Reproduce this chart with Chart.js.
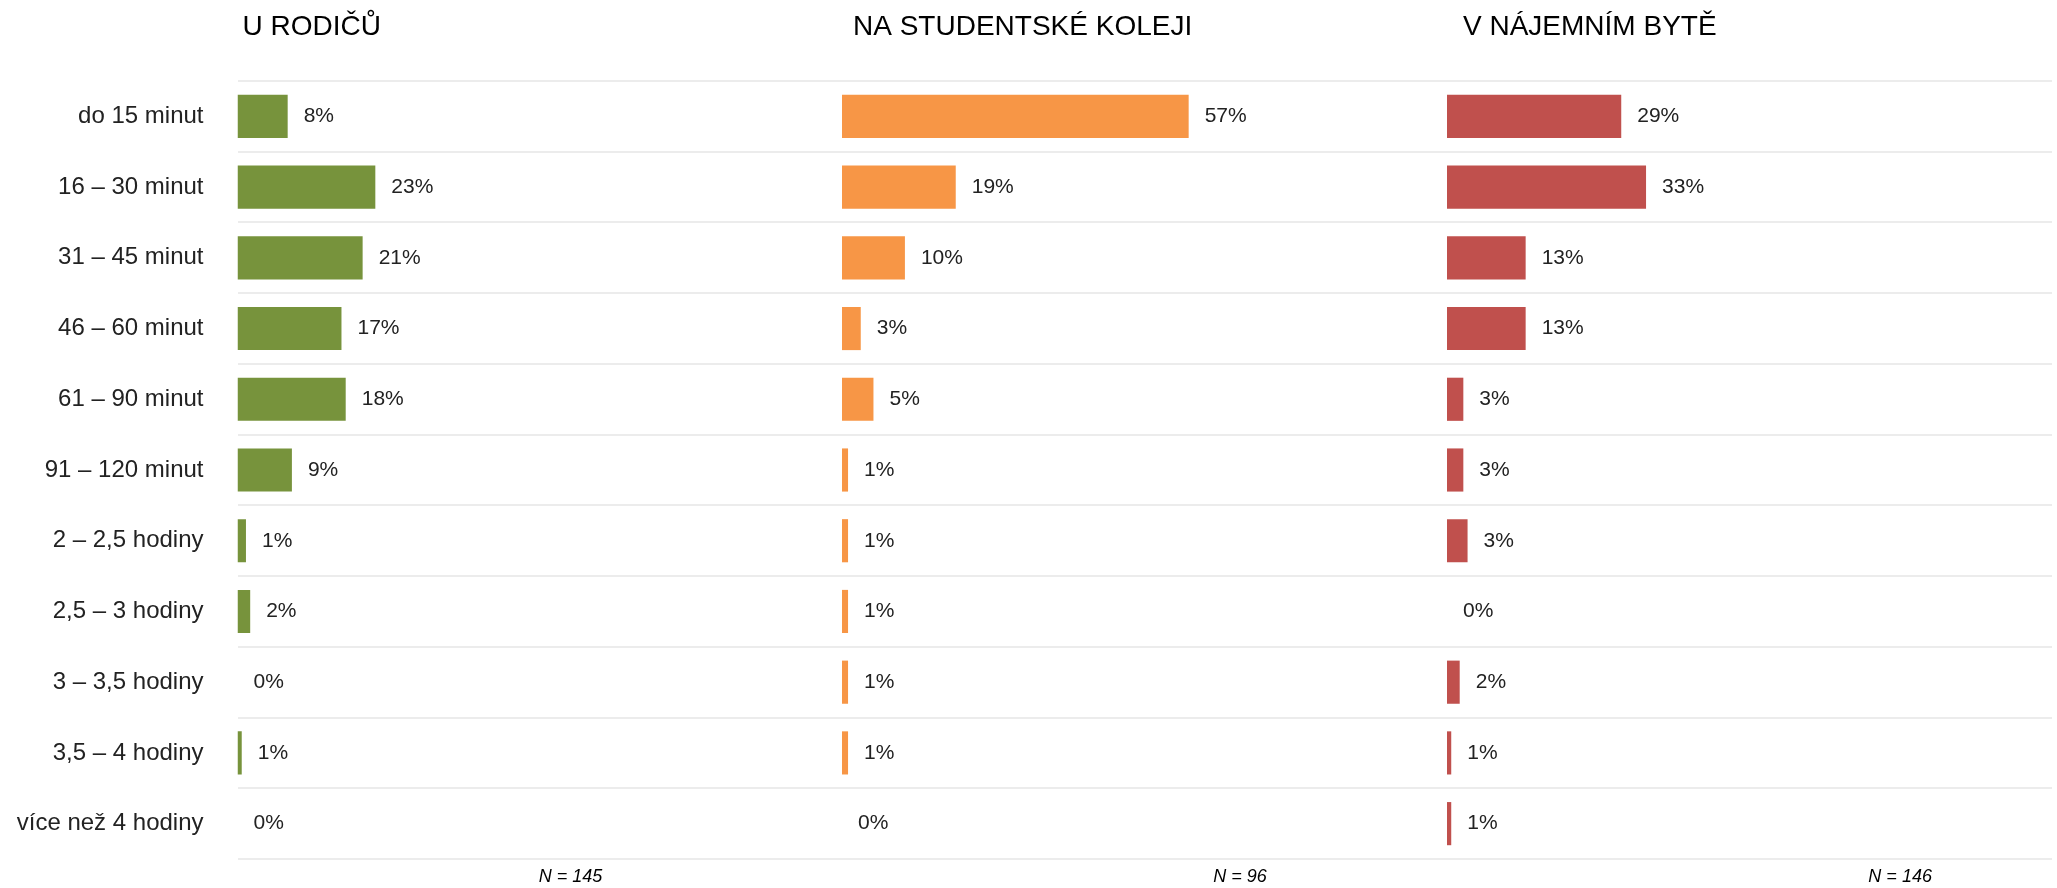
<!DOCTYPE html>
<html>
<head>
<meta charset="utf-8">
<script src="https://cdn.jsdelivr.net/npm/chart.js@4.4.1/dist/chart.umd.min.js"></script>
<style>
	html, body { margin: 0; padding: 0; background: #fff; }
	#wrap { position: relative; width: 2057px; height: 888px; }
	canvas { position: absolute; top: 0; }
</style>
</head>
<body>
<div id="wrap">
	<canvas id="panel1" width="842" height="888" style="left:0"></canvas>
	<canvas id="panel2" width="605" height="888" style="left:842px"></canvas>
	<canvas id="panel3" width="610" height="888" style="left:1447px"></canvas>
</div>
<script>
const categories = [
	'do 15 minut', '16 – 30 minut', '31 – 45 minut', '46 – 60 minut', '61 – 90 minut',
	'91 – 120 minut', '2 – 2,5 hodiny', '2,5 – 3 hodiny', '3 – 3,5 hodiny', '3,5 – 4 hodiny',
	'více než 4 hodiny'
];
const panelTitles = ['U RODIČŮ', 'NA STUDENTSKÉ KOLEJI', 'V NÁJEMNÍM BYTĚ'];
const sampleNotes = ['N = 145', 'N = 96', 'N = 146'];

// share of respondents in %, per living situation
const parentsValues = [8.3, 22.8, 20.7, 17.2, 17.9, 9.0, 1.4, 2.1, 0, 0.7, 0];
const dormValues    = [57.3, 18.8, 10.4, 3.1, 5.2, 1.0, 1.0, 1.0, 1.0, 1.0, 0];
const rentalValues  = [28.8, 32.9, 13.0, 13.0, 2.7, 2.7, 3.4, 0, 2.1, 0.7, 0.7];

const barColors = ['#77933C', '#F79646', '#C0504D'];
const FONT = '"Liberation Sans", Arial, sans-serif';

// Percent labels right of each bar.
const valueLabelPlugin = {
	id: 'valueLabels',
	afterDatasetsDraw( chart ) {
		const ctx = chart.ctx;
		const values = chart.data.datasets[0].data;
		ctx.save();
		ctx.font = '21px ' + FONT;
		ctx.fillStyle = '#222';
		ctx.textBaseline = 'middle';
		ctx.textAlign = 'left';
		chart.getDatasetMeta( 0 ).data.forEach( ( bar, i ) => {
			ctx.fillText( Math.round( values[i] ) + '%', bar.x + 16, bar.y );
		} );
		ctx.restore();
	}
};

// Panel caption on top and the N note under the plot.
const panelTextPlugin = {
	id: 'panelText',
	afterDraw( chart, args, opts ) {
		const { ctx, chartArea } = chart;
		ctx.save();
		ctx.fillStyle = '#000';
		ctx.textBaseline = 'middle';
		ctx.textAlign = 'left';
		ctx.font = '28px ' + FONT;
		ctx.fillText( opts.title, chartArea.left + opts.titleOffset, 27 );
		ctx.font = 'italic 18px ' + FONT;
		ctx.textAlign = 'center';
		ctx.fillText( opts.note, chartArea.left + chartArea.width * opts.noteAt, 877 );
		ctx.restore();
	}
};

function makePanel( canvasId, values, color, idx, showLabels, rightPad ) {
	return new Chart( document.getElementById( canvasId ), {
		type: 'bar',
		data: {
			labels: categories,
			datasets: [ {
				data: values,
				backgroundColor: color,
				barPercentage: 0.61,
				categoryPercentage: 1
			} ]
		},
		options: {
			indexAxis: 'y',
			responsive: false,
			animation: false,
			layout: { padding: { top: 81, bottom: 29, left: 0, right: rightPad } },
			scales: {
				x: { display: false, min: 0, max: 100 },
				y: {
					afterFit: ( scale ) => {
						scale.width = showLabels ? 237.5 : 0;
						// keep the plot height the same in all three panels
						scale.paddingTop = 0;
						scale.paddingBottom = 0;
					},
					border: { display: false },
					grid: { color: '#ececec', lineWidth: 2, drawTicks: false, offset: true },
					ticks: {
						display: showLabels,
						padding: 34,
						color: '#222',
						font: { family: FONT, size: 24 }
					}
				}
			},
			plugins: {
				legend: { display: false },
				tooltip: { enabled: false },
				panelText: {
					title: panelTitles[idx],
					note: sampleNotes[idx],
					titleOffset: [5, 11, 16][idx],
					noteAt: [0.551, 0.658, 0.749][idx]
				}
			}
		},
		plugins: [ valueLabelPlugin, panelTextPlugin ]
	} );
}

makePanel( 'panel1', parentsValues, barColors[0], 0, true, 0 );
makePanel( 'panel2', dormValues, barColors[1], 1, false, 0 );
makePanel( 'panel3', rentalValues, barColors[2], 2, false, 5 );
</script>
</body>
</html>
